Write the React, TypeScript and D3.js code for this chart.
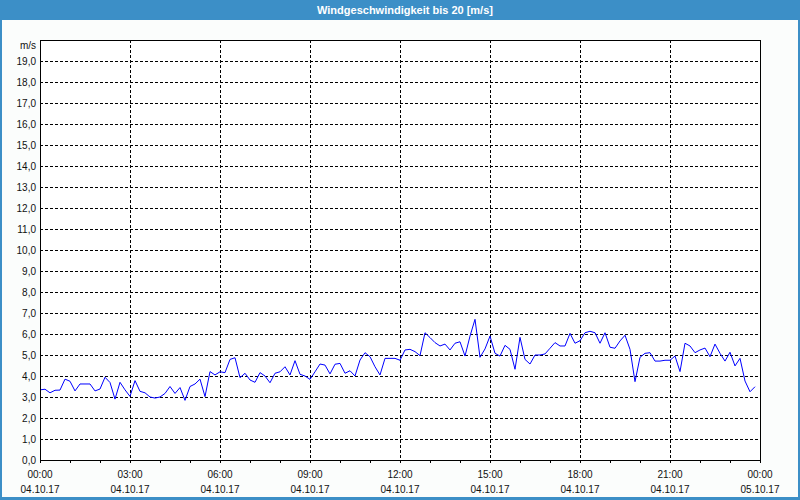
import React from 'react';
import * as d3 from 'd3';

const TITLE = 'Windgeschwindigkeit bis 20 [m/s]';
const Y_UNIT = 'm/s';

// wind speed (m/s), one sample every 10 minutes, 04.10.17 00:00 – 23:50
const speed00to06 = [
  3.34, 3.37, 3.2, 3.32, 3.33, 3.85, 3.75, 3.29, 3.62, 3.62, 3.62, 3.29,
  3.38, 3.94, 3.69, 2.9, 3.7, 3.34, 3.03, 3.78, 3.27, 3.2, 3.0, 2.95,
  3.0, 3.17, 3.5, 3.17, 3.45, 2.84, 3.5, 3.62, 3.85, 3.02, 4.21, 4.05,
];
const speed06to12 = [
  4.2, 4.16, 4.79, 4.87, 3.92, 4.13, 3.81, 3.7, 4.16, 4.0, 3.68, 4.13,
  4.2, 4.44, 4.05, 4.73, 4.08, 4.0, 3.84, 4.2, 4.57, 4.52, 4.1, 4.56,
  4.6, 4.13, 4.25, 4.0, 4.76, 5.11, 4.92, 4.44, 4.05, 4.84, 4.84, 4.84,
];
const speed12to18 = [
  4.75, 5.24, 5.27, 5.16, 4.97, 6.06, 5.83, 5.59, 5.43, 5.52, 5.24, 5.56,
  5.63, 4.95, 5.9, 6.7, 4.89, 5.29, 5.9, 5.08, 4.95, 5.46, 5.27, 4.32,
  5.84, 4.79, 4.57, 5.0, 5.0, 5.05, 5.32, 5.59, 5.43, 5.43, 6.03, 5.56,
];
const speed18to24 = [
  5.68, 6.06, 6.13, 6.06, 5.56, 6.06, 5.37, 5.32, 5.67, 5.94, 5.27, 3.73,
  4.89, 5.08, 5.11, 4.71, 4.71, 4.75, 4.75, 4.95, 4.21, 5.56, 5.43, 5.11,
  5.24, 5.33, 4.92, 5.52, 5.08, 4.71, 5.13, 4.48, 4.84, 3.76, 3.25, 3.49,
];
const SAMPLE_MINUTES = 10;

const yTickValues = [0, 1, 2, 3, 4, 5, 6, 7, 8, 9, 10, 11, 12, 13, 14, 15, 16, 17, 18, 19];
const xTickHours = [0, 3, 6, 9, 12, 15, 18, 21, 24];
const xTickTimes = ['00:00', '03:00', '06:00', '09:00', '12:00', '15:00', '18:00', '21:00', '00:00'];
const xTickDates = ['04.10.17', '04.10.17', '04.10.17', '04.10.17', '04.10.17', '04.10.17', '04.10.17', '04.10.17', '05.10.17'];
const xMinorHours = d3.range(0, 25);

const W = 800;
const H = 500;
const LEFT = 40;
const RIGHT = 760;
const TOP = 40;
const BOTTOM = 460;

const BLUE = '#3c8fc7';
const BG = '#fbfdfc';
const FONT = '"Liberation Sans", Arial, sans-serif';

export default function App() {
  const series = [...speed00to06, ...speed06to12, ...speed12to18, ...speed18to24];
  const x = d3.scaleLinear().domain([0, 24 * 60]).range([LEFT, RIGHT]);
  const y = d3.scaleLinear().domain([0, 20]).range([BOTTOM, TOP]);

  const line = d3
    .line<number>()
    .x((_, i) => x(i * SAMPLE_MINUTES))
    .y((d) => y(d));

  const fmt = (v: number) => v.toFixed(1).replace('.', ',');

  return (
    <div style={{ position: 'fixed', left: 0, top: 0 }}>
      <svg width={W} height={H} style={{ display: 'block' }}>
        <rect x={0} y={0} width={W} height={H} fill={BG} />
        {/* frame */}
        <rect x={0.5} y={0.5} width={W - 1} height={H - 1} fill="none" stroke={BLUE} strokeWidth={1} />
        <rect x={798} y={0} width={2} height={H} fill={BLUE} />
        <rect x={0} y={497} width={W} height={3} fill={BLUE} />
        <rect x={0} y={0} width={2} height={H} fill={BLUE} />
        {/* title bar */}
        <rect x={0} y={0} width={W} height={20} fill={BLUE} />
        <text
          x={W / 2 + 5}
          y={10}
          fill="#ffffff"
          fontFamily={FONT}
          fontSize={11}
          fontWeight="bold"
          textAnchor="middle"
          dominantBaseline="central"
        >
          {TITLE}
        </text>

        {/* plot background */}
        <rect x={LEFT} y={TOP} width={RIGHT - LEFT} height={BOTTOM - TOP} fill="#ffffff" />

        {/* horizontal grid */}
        {yTickValues
          .filter((v) => v > 0)
          .map((v) => (
            <line
              key={'hg' + v}
              x1={LEFT}
              x2={RIGHT}
              y1={Math.round(y(v)) + 0.5}
              y2={Math.round(y(v)) + 0.5}
              stroke="#000"
              strokeWidth={1}
              strokeDasharray="3,2"
              shapeRendering="crispEdges"
            />
          ))}
        {/* vertical grid */}
        {xTickHours
          .filter((h) => h > 0 && h < 24)
          .map((h) => (
            <line
              key={'vg' + h}
              x1={Math.round(x(h * 60)) + 0.5}
              x2={Math.round(x(h * 60)) + 0.5}
              y1={TOP}
              y2={BOTTOM}
              stroke="#000"
              strokeWidth={1}
              strokeDasharray="3,2"
              shapeRendering="crispEdges"
            />
          ))}

        {/* data line */}
        <path d={line(series) || ''} fill="none" stroke="#0000ff" strokeWidth={1} />

        {/* plot border */}
        <line x1={LEFT + 0.5} x2={LEFT + 0.5} y1={TOP} y2={BOTTOM + 1} stroke="#000" shapeRendering="crispEdges" />
        <line x1={RIGHT + 0.5} x2={RIGHT + 0.5} y1={TOP} y2={BOTTOM + 1} stroke="#000" shapeRendering="crispEdges" />
        <line x1={LEFT} x2={RIGHT + 1} y1={TOP + 0.5} y2={TOP + 0.5} stroke="#000" shapeRendering="crispEdges" />
        <line x1={LEFT} x2={RIGHT + 1} y1={BOTTOM + 0.5} y2={BOTTOM + 0.5} stroke="#000" shapeRendering="crispEdges" />

        {/* hourly ticks */}
        {xMinorHours.map((h) => (
          <line
            key={'mt' + h}
            x1={Math.round(x(h * 60)) + 0.5}
            x2={Math.round(x(h * 60)) + 0.5}
            y1={BOTTOM}
            y2={BOTTOM + 3}
            stroke="#000"
            shapeRendering="crispEdges"
          />
        ))}

        {/* y labels */}
        {yTickValues.map((v) => (
          <text
            key={'yl' + v}
            x={LEFT - 4}
            y={y(v)}
            fontFamily={FONT}
            fontSize={10}
            fill="#111"
            textAnchor="end"
            dominantBaseline="central"
          >
            {fmt(v)}
          </text>
        ))}
        <text
          x={LEFT - 4}
          y={TOP + 5}
          fontFamily={FONT}
          fontSize={10}
          fill="#111"
          textAnchor="end"
          dominantBaseline="central"
        >
          {Y_UNIT}
        </text>

        {/* x labels */}
        {xTickHours.map((h, i) => (
          <g key={'xl' + i}>
            <text
              x={x(h * 60)}
              y={BOTTOM + 14}
              fontFamily={FONT}
              fontSize={10}
              fill="#111"
              textAnchor="middle"
              dominantBaseline="central"
            >
              {xTickTimes[i]}
            </text>
            <text
              x={x(h * 60)}
              y={BOTTOM + 29}
              fontFamily={FONT}
              fontSize={10}
              fill="#111"
              textAnchor="middle"
              dominantBaseline="central"
            >
              {xTickDates[i]}
            </text>
          </g>
        ))}
      </svg>
    </div>
  );
}
